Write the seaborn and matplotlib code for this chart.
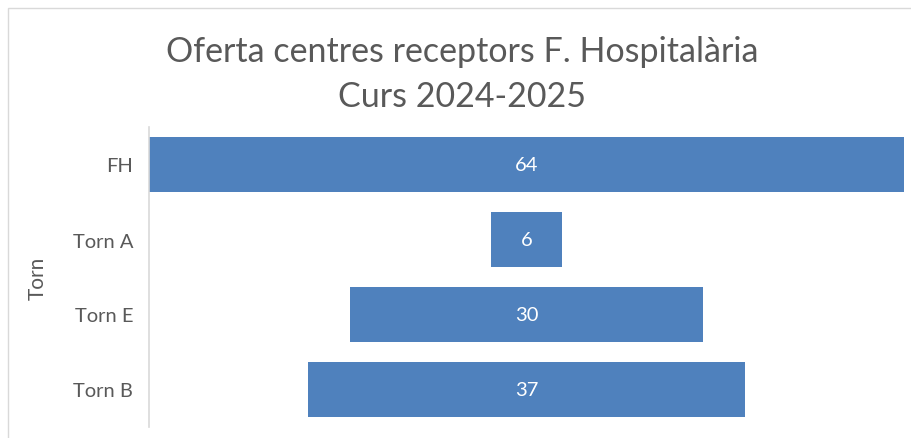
import numpy as np
import pandas as pd
import matplotlib
matplotlib.use("Agg")
import matplotlib.pyplot as plt
import seaborn as sns
from matplotlib.patches import Rectangle

# Data
categories = ["FH", "Torn A", "Torn E", "Torn B"]
places = [64, 6, 30, 37]

BAR_COLOR = "#4F81BD"
TEXT_GRAY = "#595959"
LINE_GRAY = "#D9D9D9"

df = pd.DataFrame({"Torn": categories, "Places": places})

sns.set_theme(style="white")
plt.rcParams["font.family"] = ["Lato", "DejaVu Sans"]

fig = plt.figure(figsize=(9.11, 4.39), dpi=100)
ax = fig.add_axes([149 / 911, 11 / 439, 756 / 911, 300 / 439])

sns.barplot(data=df, x="Places", y="Torn", color=BAR_COLOR, saturation=1,
            width=0.733, ax=ax, orient="h")

# centre each bar to make the funnel shape
max_val = max(places)
for patch, v in zip(ax.patches, places):
    patch.set_x((max_val - v) / 2)
    patch.set_edgecolor("none")
    ax.text(max_val / 2, patch.get_y() + patch.get_height() / 2, str(v),
            ha="center", va="center", color="white", fontsize=14.5)

ax.set_xlim(0, max_val * 1.0015)
ax.set_ylim(3.5, -0.5)
ax.set_xticks([])
ax.set_xlabel("")
ax.set_ylabel("Torn", color=TEXT_GRAY, fontsize=15, labelpad=18)
ax.tick_params(axis="y", colors=TEXT_GRAY, labelsize=14.5, length=0, pad=11.5)

for side in ["top", "right", "bottom"]:
    ax.spines[side].set_visible(False)
ax.spines["left"].set_color(LINE_GRAY)
ax.spines["left"].set_linewidth(1.2)

fig.text(0.507, 0.831, "Oferta centres receptors F. Hospitalària\nCurs 2024-2025",
         ha="center", va="center", color=TEXT_GRAY, fontsize=24.5,
         linespacing=1.5)

# chart area border
fig.patches.append(Rectangle((8 / 911, -0.1), 1.1, 1 - 9 / 439 + 0.1,
                             transform=fig.transFigure, fill=False,
                             edgecolor=LINE_GRAY, linewidth=1))

fig.savefig("out.png", dpi=100)
